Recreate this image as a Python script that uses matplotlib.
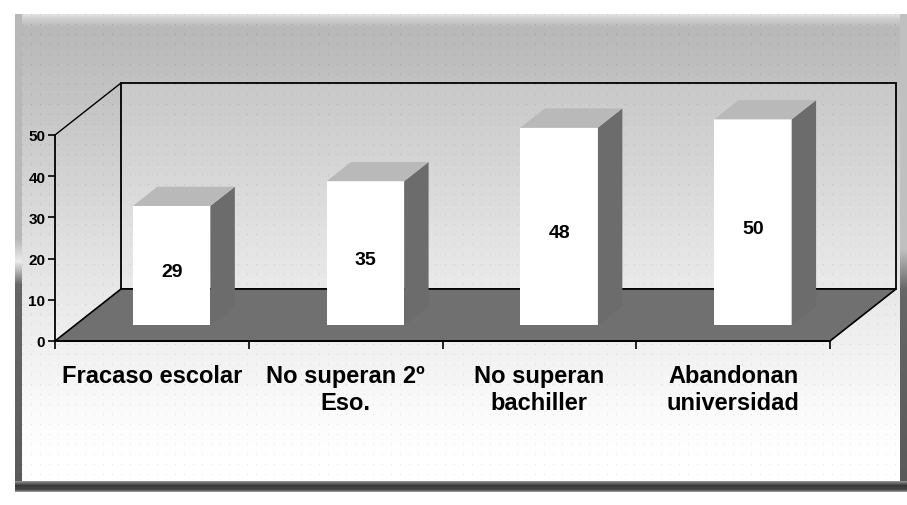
import numpy as np
import matplotlib
matplotlib.use('Agg')
import matplotlib.pyplot as plt
from matplotlib.patches import Polygon

categories = ["Fracaso escolar", "No superan 2º\nEso.", "No superan\nbachiller", "Abandonan\nuniversidad"]
values = [29, 35, 48, 50]
yticks = [0, 10, 20, 30, 40, 50]

W, H = 907, 506
FONT = 'Liberation Sans'
fig = plt.figure(figsize=(W / 100, H / 100), dpi=100)
fig.patch.set_facecolor('white')

# ---- background frame with gradient ----
bg = fig.add_axes([0, 0, 1, 1], zorder=0)
bg.set_xlim(0, W)
bg.set_ylim(H, 0)
bg.axis('off')
yy, xx = np.mgrid[0:H, 0:W]
inside = (xx >= 15) & (xx < 905) & (yy >= 15) & (yy < 492)
grad = np.interp(yy, [15, 20, 28, 120, 250, 420, 470], [0.88, 0.80, 0.72, 0.78, 0.88, 0.985, 1.0])
# dotted texture
dots = ((xx % 9) == 4) & ((yy % 10) == 5)
tex = np.where(dots, -0.10, 0.0)
img = np.where(inside, np.clip(grad + tex, 0, 1), 1.0)
# left border
lb = (xx >= 15) & (xx < 22) & (yy >= 15) & (yy < 492)
lv = np.interp(yy, [15, 240, 262, 285, 400, 490], [0.72, 0.72, 0.92, 0.40, 0.38, 0.35])
img = np.where(lb, lv, img)
# right border
rb = (xx >= 900) & (yy >= 15) & (yy < 492)
rv = np.interp(yy, [15, 250, 290, 490], [0.75, 0.75, 0.40, 0.35])
img = np.where(rb, rv, img)
# bottom border
bb = (xx >= 15) & (yy >= 482) & (yy < 493)
bv = np.interp(yy, [482, 486, 490, 493], [0.55, 0.22, 0.28, 0.7])
img = np.where(bb, bv, img)
bg.imshow(img, cmap='gray', vmin=0, vmax=1, extent=(0, W, H, 0), interpolation='nearest', aspect='auto')

# ---- main chart axes (front plane) ----
ax = fig.add_axes([55 / W, (H - 342) / H, 775 / W, 206 / H], zorder=1)
ax.patch.set_visible(False)
n = len(categories)
ax.set_xlim(0, n)
ax.set_ylim(0, 50)

# depth offsets in data units
DX = 66 / (775 / n)
DY = 52 / (206 / 50)
F0, F1 = 0.30, 0.67
BW = 0.40


def P(x, v, d):
    return (x + d * DX, v + d * DY)


ymax = yticks[-1]
# back wall
ax.add_patch(Polygon([P(0, 0, 1), P(n, 0, 1), P(n, ymax, 1), P(0, ymax, 1)], closed=True,
                     facecolor='white', alpha=0.12, edgecolor='none', clip_on=False, zorder=1))
ax.add_patch(Polygon([P(0, 0, 1), P(n, 0, 1), P(n, ymax, 1), P(0, ymax, 1)], closed=True,
                     facecolor='none', edgecolor='black', lw=1.3, clip_on=False, zorder=1.1))
ax.plot(*zip(P(0, ymax, 0), P(0, ymax, 1)), color='black', lw=1.0, clip_on=False, zorder=1.1)
# floor
ax.add_patch(Polygon([P(0, 0, 0), P(n, 0, 0), P(n, 0, 1), P(0, 0, 1)], closed=True,
                     facecolor='#707070', edgecolor='black', lw=1.2, clip_on=False, zorder=2))

centers = np.arange(n) + 0.5
# bars front faces
ax.bar(centers + F0 * DX, values, width=BW, bottom=F0 * DY, color='white', edgecolor='none',
       zorder=3, clip_on=False)
for c, v in zip(centers, values):
    xl, xr = c - BW / 2, c + BW / 2
    side = [P(xr, 0, F0), P(xr, 0, F1), P(xr, v, F1), P(xr, v, F0)]
    top = [P(xl, v, F0), P(xr, v, F0), P(xr, v, F1), P(xl, v, F1)]
    ax.add_patch(Polygon(side, closed=True, facecolor='#6c6c6c', edgecolor='none', clip_on=False, zorder=3))
    ax.add_patch(Polygon(top, closed=True, facecolor='#b9b9b9', edgecolor='none', clip_on=False, zorder=3))
    fx, fy = P(c, v / 2, F0)
    ax.annotate(str(v), xy=(fx, fy), xytext=(0, -4.5), textcoords='offset points',
                ha='center', va='center', fontsize=14, fontweight='bold', family=FONT, zorder=5)

# axes styling
for s in ['top', 'right']:
    ax.spines[s].set_visible(False)
ax.spines['left'].set_linewidth(1.3)
ax.spines['bottom'].set_linewidth(1.3)
ax.spines['left'].set_zorder(4)
ax.spines['bottom'].set_zorder(4)
ax.set_yticks(yticks)
ax.set_yticklabels([str(t) for t in yticks])
ax.tick_params(axis='y', direction='out', length=5, width=1.2, pad=2, labelsize=11)
for lbl in ax.get_yticklabels():
    lbl.set_fontweight('bold')
    lbl.set_family(FONT)
ax.set_xticks(np.arange(n + 1))
ax.set_xticklabels([''] * (n + 1))
ax.tick_params(axis='x', which='major', direction='out', length=6, width=1.2)
ax.set_xticks(centers, minor=True)
ax.set_xticklabels(categories, minor=True)
ax.tick_params(axis='x', which='minor', length=0, pad=16.5, labelsize=17)
for lbl in ax.get_xticklabels(minor=True):
    lbl.set_fontweight('bold')
    lbl.set_family(FONT)
    lbl.set_linespacing(1.25)

fig.savefig('out.png', dpi=100, facecolor='white')
